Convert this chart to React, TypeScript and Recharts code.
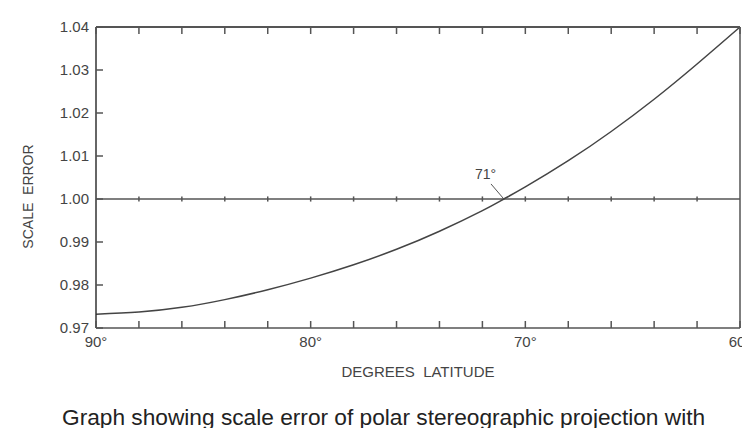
import { LineChart, Line, XAxis, YAxis, ReferenceLine, ReferenceDot } from "recharts";

// latitude (degrees) and scale factor
const latitudes = [90, 88, 86, 84, 82, 80, 78, 76, 74, 72, 71, 70, 68, 66, 64, 62, 60];
const scaleError = [
  0.9732, 0.9737, 0.9748, 0.9766, 0.9789, 0.9816, 0.9847, 0.9883, 0.9925, 0.9973,
  1.0, 1.0028, 1.0089, 1.0157, 1.0232, 1.0314, 1.04,
];
const degreeTicks = [60, 62, 64, 66, 68, 70, 72, 74, 76, 78, 80, 82, 84, 86, 88, 90];
const degreeLabels = [60, 70, 80, 90];
const errorTicks = [0.97, 0.98, 0.99, 1.0, 1.01, 1.02, 1.03, 1.04];
const trueScaleLabel = "71°";

const data = latitudes.map((lat, i) => ({ lat, k: scaleError[i] }));

const INK = "#555";
const TEXT = "#444";
const TICK = 7;
const FONT = "'Liberation Sans', Arial, sans-serif";

const BottomTick = (props: any) => {
  const { x, y, payload } = props;
  return (
    <g>
      <line x1={x} y1={y} x2={x} y2={y - TICK} stroke={INK} strokeWidth={1.5} />
      {degreeLabels.includes(payload.value) && (
        <text x={x} y={y + 19} textAnchor="middle" fontSize={15} fill={TEXT} fontFamily={FONT}>
          {payload.value}°
        </text>
      )}
    </g>
  );
};

const TopTick = (props: any) => {
  const { x, y } = props;
  return <line x1={x} y1={y} x2={x} y2={y + TICK} stroke={INK} strokeWidth={1.5} />;
};

const LeftTick = (props: any) => {
  const { x, y, payload } = props;
  return (
    <g>
      <line x1={x} y1={y} x2={x + TICK} y2={y} stroke={INK} strokeWidth={1.5} />
      <text x={x - 7} y={y} dy="0.35em" textAnchor="end" fontSize={15} fill={TEXT} fontFamily={FONT}>
        {payload.value.toFixed(2)}
      </text>
    </g>
  );
};

const RightTick = (props: any) => {
  const { x, y } = props;
  return <line x1={x} y1={y} x2={x - TICK} y2={y} stroke={INK} strokeWidth={1.5} />;
};

const YTitle = (props: any) => {
  const { viewBox } = props;
  const cy = viewBox.y + viewBox.height / 2 + 19;
  return (
    <text
      x={28}
      y={cy}
      transform={`rotate(-90, 28, ${cy})`}
      dy="0.35em"
      textAnchor="middle"
      fontSize={14}
      fill={TEXT}
      fontFamily={FONT}
      style={{ whiteSpace: "pre" }}
    >
      {"SCALE  ERROR"}
    </text>
  );
};

const XTitle = (props: any) => {
  const { viewBox } = props;
  const cx = viewBox.x + viewBox.width / 2;
  return (
    <text
      x={cx}
      y={viewBox.y + viewBox.height + 19}
      textAnchor="middle"
      fontSize={15}
      fill={TEXT}
      fontFamily={FONT}
      style={{ whiteSpace: "pre" }}
    >
      {"DEGREES  LATITUDE"}
    </text>
  );
};

export default function App() {
  return (
    <div
      style={{
        position: "absolute",
        left: 0,
        top: 0,
        width: 742,
        height: 428,
        overflow: "hidden",
        background: "#fff",
        fontFamily: FONT,
      }}
    >
      <LineChart
        width={742}
        height={428}
        data={data}
        margin={{ top: 26, right: 1, bottom: 70, left: 36 }}
      >
        <XAxis
          dataKey="lat"
          type="number"
          domain={[60, 90]}
          reversed
          ticks={degreeTicks}
          interval={0}
          height={30}
          tickSize={0}
          tickMargin={0}
          tick={<BottomTick />}
          axisLine={{ stroke: INK, strokeWidth: 1.5 }}
          tickLine={false}
          label={{ content: <XTitle /> }}
        />
        <XAxis
          xAxisId="top"
          orientation="top"
          dataKey="lat"
          type="number"
          domain={[60, 90]}
          reversed
          ticks={degreeTicks}
          interval={0}
          height={1}
          tickSize={0}
          tickMargin={0}
          tick={<TopTick />}
          axisLine={{ stroke: INK, strokeWidth: 2 }}
          tickLine={false}
        />
        <YAxis
          type="number"
          domain={[0.97, 1.04]}
          ticks={errorTicks}
          interval={0}
          width={60}
          tickSize={0}
          tickMargin={0}
          tick={<LeftTick />}
          axisLine={{ stroke: "#333", strokeWidth: 1.5 }}
          tickLine={false}
          label={{ content: <YTitle /> }}
        />
        <YAxis
          yAxisId="right"
          orientation="right"
          type="number"
          domain={[0.97, 1.04]}
          ticks={errorTicks}
          interval={0}
          width={1}
          tickSize={0}
          tickMargin={0}
          tick={<RightTick />}
          axisLine={{ stroke: INK, strokeWidth: 1.5 }}
          tickLine={false}
        />
        <ReferenceLine y={1} stroke={INK} strokeWidth={1.5} />
        {degreeTicks.slice(1, -1).map((d) => (
          <ReferenceLine
            key={d}
            segment={[
              { x: d, y: 0.9994 },
              { x: d, y: 1.0006 },
            ]}
            stroke={INK}
            strokeWidth={1.5}
          />
        ))}
        <ReferenceLine
          segment={[
            { x: 71, y: 1.0 },
            { x: 71.6, y: 1.0035 },
          ]}
          stroke={INK}
          strokeWidth={1}
        />
        <ReferenceDot
          x={71.85}
          y={1.0057}
          r={0}
          fill="none"
          stroke="none"
          label={{ value: trueScaleLabel, position: "center", fontSize: 14, fill: TEXT, fontFamily: FONT }}
        />
        <Line
          type="natural"
          dataKey="k"
          stroke="#444"
          strokeWidth={1.5}
          dot={false}
          isAnimationActive={false}
        />
      </LineChart>
      <div
        style={{
          position: "absolute",
          left: 62,
          top: 403,
          fontSize: 22.7,
          lineHeight: "28px",
          color: "#222",
          whiteSpace: "nowrap",
        }}
      >
        Graph showing scale error of polar stereographic projection with
      </div>
    </div>
  );
}
